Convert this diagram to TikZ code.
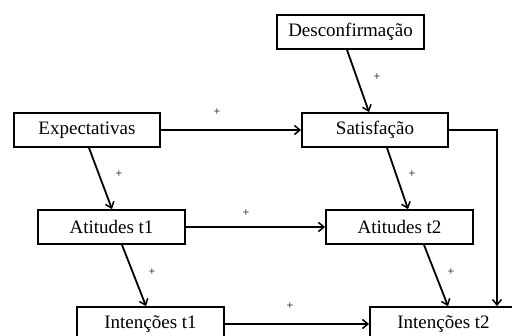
\documentclass[tikz,border=0pt]{standalone}
\usepackage{fontspec}
\setmainfont{Liberation Serif}
\usetikzlibrary{arrows.meta}
\begin{document}
\begin{tikzpicture}[x=1pt,y=-1pt,
  box/.style={draw, line width=1.8pt, rectangle, minimum width=147pt, minimum height=34pt,
    inner sep=0pt, font=\fontsize{19}{22}\selectfont},
  link/.style={line width=1.8pt, -{Straight Barb[length=5.5pt,width=9pt,line width=1.5pt]}},
  sign/.style={font=\fontsize{12}{13}\selectfont, inner sep=0pt}]
  \useasboundingbox (0,0) rectangle (512,336);
  % constructs
  \node[box] (desc) at (350.5,32)  {Desconfirmação};
  \node[box,minimum width=146pt] (exp)  at (87,130)   {Expectativas};
  \node[box,minimum width=146pt] (sat)  at (375,130)  {Satisfação};
  \node[box] (at1)  at (111.5,227) {Atitudes t1};
  \node[box] (at2)  at (399.5,227) {Atitudes t2};
  \node[box] (int1) at (150.5,324) {Intenções t1};
  \node[box] (int2) at (443.5,324) {Intenções t2};
  \coordinate (bend) at (497,130);
  % paths
  \draw[link] ([xshift=-3.5pt]desc.south) -- ([xshift=-6pt]sat.north);
  \draw[link] (exp.east) -- (sat.west);
  \draw[link] ([xshift=2pt]exp.south) -- ([xshift=0.5pt]at1.north);
  \draw[link] ([xshift=12pt]sat.south) -- ([xshift=8.5pt]at2.north);
  \draw[link] (at1.east) -- (at2.west);
  \draw[link] ([xshift=10.5pt]at1.south) -- ([xshift=-4.5pt]int1.north);
  \draw[link] ([xshift=24.5pt]at2.south) -- ([xshift=4.5pt]int2.north);
  \draw[link] (int1.east) -- (int2.west);
  \draw[link] (sat.east) -- (bend) -- (bend |- int2.north);
  % signs
  \node[sign] (s1) at (377,77)  {+};
  \node[sign] (s2) at (217,112) {+};
  \node[sign] (s3) at (119,174) {+};
  \node[sign] (s4) at (412,174) {+};
  \node[sign] (s5) at (246,213) {+};
  \node[sign] (s6) at (152,272) {+};
  \node[sign] (s7) at (451,272) {+};
  \node[sign] (s8) at (290,306) {+};
\end{tikzpicture}
\end{document}
